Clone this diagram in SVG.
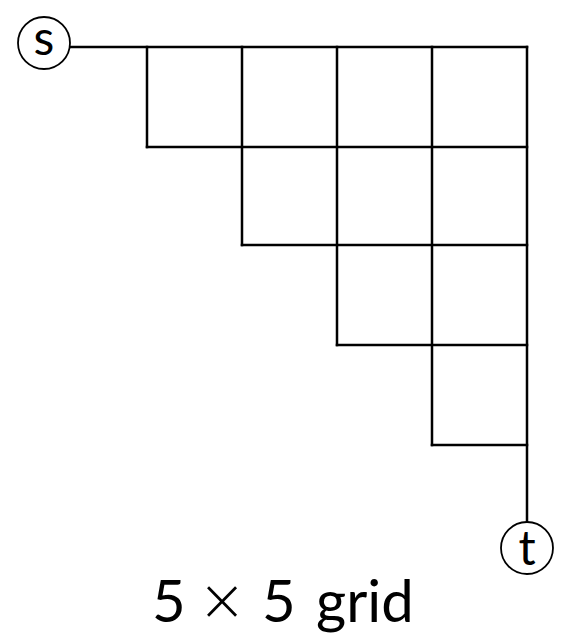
<svg xmlns="http://www.w3.org/2000/svg" width="561" height="636" viewBox="0 0 561 636">
<style>
.e{stroke:#000;stroke-width:2.5;fill:none;stroke-linecap:square}
.n{fill:#fff;stroke:#000;stroke-width:1.8}
.l{font-family:Lato,"Noto Sans",sans-serif;font-size:48px;text-anchor:middle;fill:#000}
.cap{font-family:Lato,"Noto Sans",sans-serif;font-size:58px;fill:#000}
</style>
<rect width="561" height="636" fill="#fff"/>
<g id="edges">
<path class="e" d="M70 47H527M147 147H527M242 245H527M337 345H527M432 445H527"/>
<path class="e" d="M147 47V147M242 47V245M337 47V345M432 47V445M527 47V522"/>
</g>
<g id="s"><circle class="n" cx="44" cy="43" r="26"/><text class="l" x="44" y="55">s</text></g>
<g id="t"><circle class="n" cx="527" cy="548" r="26"/><text class="l" x="527" y="565">t</text></g>
<g id="caption">
<text class="cap" x="152" y="622">5</text>
<text class="cap" x="222" y="620" text-anchor="middle" style="font-family:'DejaVu Sans',sans-serif;font-size:58px;font-weight:300">×</text>
<text class="cap" x="262" y="622">5</text>
<text class="cap" x="316" y="622">grid</text>
</g>
</svg>
